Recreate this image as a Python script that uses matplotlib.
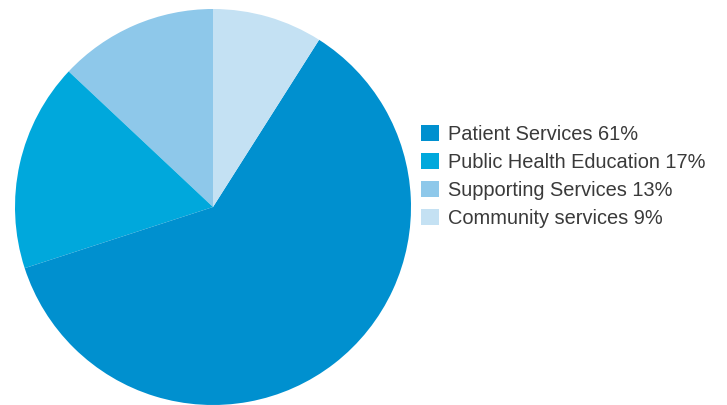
import matplotlib.pyplot as plt

plt.rcParams['font.family'] = ['Liberation Sans', 'DejaVu Sans']

# Fatias na ordem de desenho (anti-horário a partir do topo)
categorias = ["Supporting Services", "Public Health Education", "Patient Services", "Community services"]
valores = [13, 17, 61, 9]
cores = ["#8ec8ea", "#00a8dc", "#0090cf", "#c4e1f3"]

# Ordem da legenda
ordem_legenda = ["Patient Services", "Public Health Education", "Supporting Services", "Community services"]

fig = plt.figure(figsize=(7.27, 4.05), dpi=100)
ax = fig.add_axes([15 / 727, 0.0, 396 / 727, 396 / 405])

fatias, _ = ax.pie(valores, colors=cores, startangle=90, counterclock=True,
                   wedgeprops={"linewidth": 0})
ax.set_xlim(-1, 1)
ax.set_ylim(-1, 1)
ax.set_aspect("equal")

handles = []
labels = []
for nome in ordem_legenda:
    i = categorias.index(nome)
    handles.append(fatias[i])
    labels.append(f"{nome} {valores[i]}%")

fig.legend(handles, labels, loc="upper left", bbox_to_anchor=(421 / 727, 1 - 125 / 405),
           frameon=False, fontsize=14.4, handlelength=0.9, handleheight=0.88,
           handletextpad=0.45, labelspacing=0.44, borderpad=0, borderaxespad=0,
           labelcolor="#3a3a3a")

fig.savefig("out.png", dpi=100)
